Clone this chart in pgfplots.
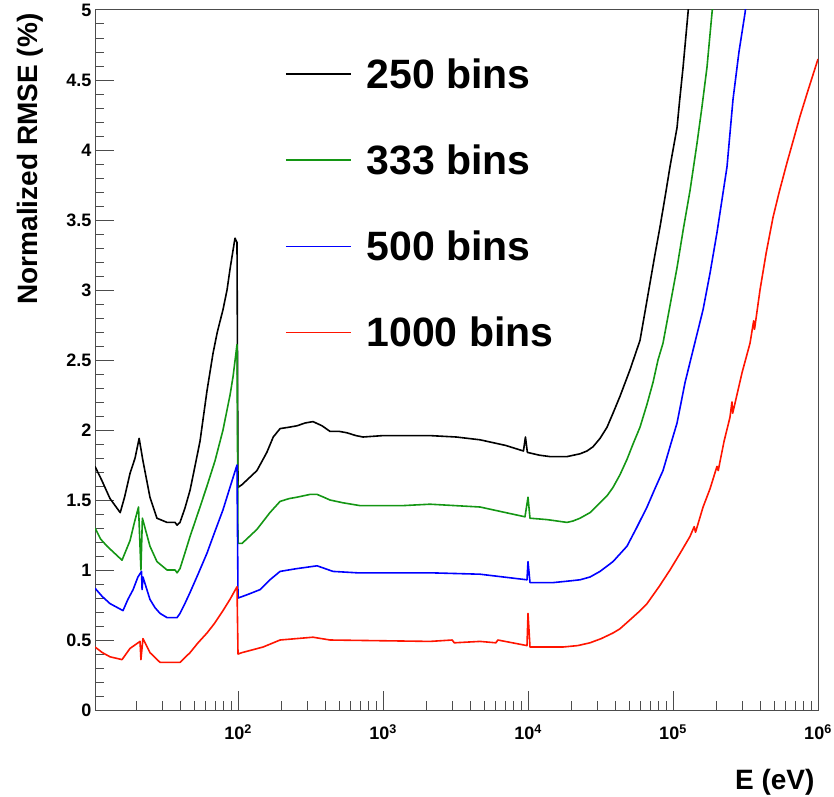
\documentclass[border=0pt]{standalone}
\usepackage{fontspec}
\setmainfont{Liberation Sans}
\usepackage{pgfplots}
\pgfplotsset{compat=1.18}
\definecolor{rgreen}{RGB}{20,150,20}
\definecolor{rblue}{RGB}{0,0,255}
\definecolor{rred}{RGB}{255,20,0}
\begin{document}
\begin{tikzpicture}
\begin{axis}[
  scale only axis, width=723pt, height=700pt,
  xmode=log, xmin=10.32, xmax=1e6, ymin=0, ymax=5,
  xtick={100,1000,10000,100000,1000000},
  xticklabels={10\textsuperscript{2},10\textsuperscript{3},10\textsuperscript{4},10\textsuperscript{5},10\textsuperscript{6}},
  minor xtick={20,30,40,50,60,70,80,90,200,300,400,500,600,700,800,900,2000,3000,4000,5000,6000,7000,8000,9000,20000,30000,40000,50000,60000,70000,80000,90000,200000,300000,400000,500000,600000,700000,800000,900000},
  ytick={0,0.5,1,1.5,2,2.5,3,3.5,4,4.5,5},
  minor y tick num=4,
  tick align=inside, tick pos=left,
  major tick length=19pt, minor tick length=9pt,
  tick style={line width=1pt, black!70},
  axis line style={line width=1pt, black!70},
  /pgf/number format/assume math mode=true,
  tick label style={font=\fontsize{18}{20}\selectfont\bfseries},
  xticklabel style={yshift=-11pt},
  ylabel={Normalized RMSE (\%)},
  ylabel style={font=\fontsize{28}{30}\selectfont\bfseries, at={(axis description cs:-0.09,1)}, anchor=east},
  xlabel={E (eV)},
  xlabel style={font=\fontsize{28}{30}\selectfont\bfseries, at={(axis description cs:1,-0.114)}, anchor=base east},
  legend style={draw=none, fill=none, at={(axis description cs:0.263,0.931)}, anchor=north west,
    font=\fontsize{41}{45}\selectfont\bfseries, inner sep=0pt, outer sep=0pt,
    nodes={inner sep=0pt}, row sep=55pt,
    /tikz/every odd column/.append style={column sep=15pt}},
  legend cell align=left,
  legend image code/.code={\draw[#1, line width=1.4pt] (0pt,0pt) -- (65pt,0pt);},
  every axis plot/.append style={line width=1.6pt, line join=round},
]
% 250 bins
\addplot[black] coordinates {
(10.32,1.74) (11.5,1.64) (13.1,1.51) (15.4,1.41) (16.5,1.52) (18.0,1.69) (19.5,1.80) (20.8,1.94) (22.1,1.78) (24.7,1.52) (27.6,1.37)
(32.4,1.34) (36.8,1.34) (38.0,1.32) (39.8,1.34) (43,1.44) (46.7,1.57) (50,1.72) (54.7,1.92) (61.1,2.28) (67.3,2.55)
(72,2.70) (78.8,2.86) (84,3.0) (88.1,3.15) (95.3,3.37) (98.4,3.34) (100,1.59) (106.6,1.61) (120,1.66) (135,1.71) (158,1.84)
(175,1.95) (195,2.01) (225,2.02) (255,2.03) (290,2.05) (329,2.06) (380,2.03) (431,1.99) (500,1.99) (565,1.98) (650,1.96) (728,1.95) (1000,1.96) (1373,1.96) (2109,1.96)
(3200,1.95) (4667,1.93) (7000,1.89) (9300,1.85) (9600,1.95) (9900,1.84) (12000,1.82) (14190,1.81) (18580,1.81) (22840,1.83)
(25500,1.85) (28060,1.88) (31380,1.94) (35080,2.02) (38570,2.12) (43060,2.24) (50500,2.43) (59200,2.64) (64000,2.84) (69400,3.05) (75000,3.25) (81300,3.45)
(88000,3.66) (95300,3.88) (106600,4.16) (111000,4.35) (117300,4.59) (126900,4.98) (135000,5.3)};
\addlegendentry{250 bins}
% 333 bins
\addplot[rgreen] coordinates {
(10.32,1.30) (11.3,1.22) (12.5,1.17) (15.85,1.07) (18.0,1.21) (19.3,1.34) (20.6,1.45) (21.4,1.0) (21.9,1.37) (24.7,1.17)
(27.6,1.06) (32.4,1.0) (36.8,1.0) (38.0,0.98) (39.8,1.01) (43,1.12) (46.7,1.24) (54.7,1.45) (61.1,1.6)
(69.4,1.78) (78.8,2.0) (88.1,2.25) (92.4,2.38) (98.4,2.61) (100,1.19) (106.6,1.19) (120,1.24) (135,1.29)
(166,1.41) (195,1.49) (225,1.51) (255,1.52) (314,1.54) (351,1.54) (390,1.52) (431,1.50) (530,1.48) (694,1.46)
(1373,1.46) (2109,1.47) (4667,1.45) (9530,1.38) (10000,1.52) (10320,1.37) (13530,1.36)
(18580,1.34) (20430,1.35) (22840,1.37) (26770,1.41) (31380,1.48) (35080,1.53) (38570,1.59) (43060,1.68) (48150,1.79) (53000,1.90) (59200,2.02) (66000,2.18) (72800,2.34)
(78800,2.50) (85300,2.62) (95000,2.88) (106600,3.16) (118000,3.44) (131000,3.71) (146500,4.05) (158000,4.30) (171500,4.59) (185800,4.98) (200000,5.3)};
\addlegendentry{333 bins}
% 500 bins
\addplot[rblue] coordinates {
(10.32,0.87) (11.6,0.81) (13.1,0.76) (16.1,0.71) (17.4,0.79) (18.9,0.86) (20.4,0.95) (21.6,0.99) (21.8,0.86) (22.1,0.95)
(24.7,0.79) (26.8,0.73) (29.0,0.69) (32.4,0.66) (38.0,0.66) (39.8,0.69) (43,0.76) (46.7,0.84) (53,0.97) (61.1,1.12) (69,1.27) (78.8,1.43)
(88,1.59) (98.4,1.75) (100,0.80) (106.6,0.81) (120,0.83) (142,0.86) (166,0.93) (195,0.99) (255,1.01) (351,1.03) (452,0.99) (662,0.98)
(2109,0.98) (4667,0.97) (9840,0.93) (10000,1.06) (10320,0.91) (14870,0.91) (18580,0.92) (22840,0.93)
(26770,0.95) (31380,0.99) (38570,1.06) (48150,1.17) (56000,1.30) (66200,1.45) (75000,1.58) (85300,1.71) (95300,1.88) (106600,2.05) (121100,2.34) (137400,2.57)
(161200,2.86) (180000,3.12) (201000,3.41) (235700,3.88) (259200,4.36) (285000,4.70) (314000,4.98) (340000,5.3)};
\addlegendentry{500 bins}
% 1000 bins
\addplot[rred] coordinates {
(10.32,0.45) (11.6,0.41) (13.1,0.38) (15.85,0.36) (18.0,0.44) (21.1,0.49) (21.4,0.36) (22.1,0.51) (24.7,0.41)
(29.0,0.34) (39.8,0.34) (46.7,0.41) (53,0.48) (61.1,0.55) (69,0.62) (78.8,0.71) (88,0.79) (98.4,0.88) (100,0.40) (106.6,0.41)
(149,0.45) (195,0.50) (329,0.52) (431,0.50) (2109,0.49) (3000,0.50) (3100,0.48) (4667,0.49) (6000,0.48) (6200,0.50) (9840,0.46) (10000,0.69)
(10320,0.45) (17430,0.45) (22000,0.46) (26770,0.48) (32000,0.51) (38570,0.55) (43060,0.58) (50000,0.64) (58000,0.70) (66200,0.76) (80000,0.88) (95300,1.0)
(112000,1.12) (131000,1.24) (140000,1.31) (143000,1.27) (161200,1.45) (180000,1.58) (201000,1.74) (205000,1.71) (225000,1.92) (247000,2.09) (255000,2.2) (258000,2.12) (299400,2.41)
(339700,2.62) (360000,2.78) (365000,2.72) (398100,3.0) (440000,3.27) (489700,3.52) (540000,3.70) (611300,3.91) (680000,4.08) (751000,4.24) (850000,4.42) (1000000,4.65)};
\addlegendentry{1000 bins}
\end{axis}
\pgfresetboundingbox
\path (-95pt,-86pt) rectangle (739pt,710pt);
\end{tikzpicture}
\end{document}
